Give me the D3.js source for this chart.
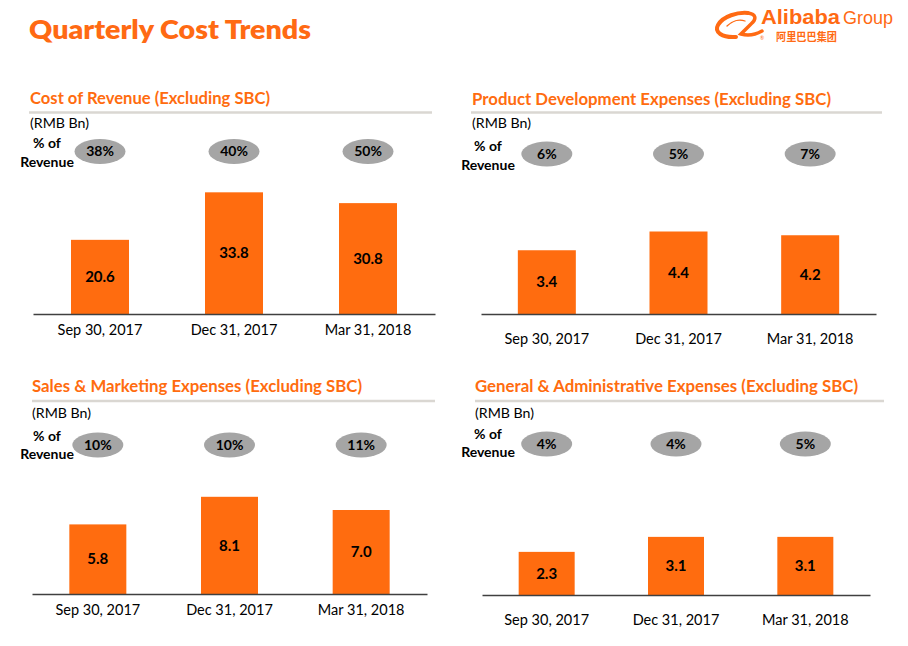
<!DOCTYPE html>
<html><head><meta charset="utf-8">
<script src="https://cdn.jsdelivr.net/npm/d3@7"></script>
<style>
html,body{margin:0;padding:0;background:#fff;}
svg{display:block;font-family:Lato,"Open Sans",sans-serif;}
</style></head>
<body>
<svg id="chart" width="908" height="646"></svg>
<script>
// ---- data ----
const categories = ["Sep 30, 2017", "Dec 31, 2017", "Mar 31, 2018"];
const costOfRevenue = [20.6, 33.8, 30.8];
const productDevelopment = [3.4, 4.4, 4.2];
const salesMarketing = [5.8, 8.1, 7.0];
const generalAdmin = [2.3, 3.1, 3.1];
const costOfRevenuePct = ["38%", "40%", "50%"];
const productDevelopmentPct = ["6%", "5%", "7%"];
const salesMarketingPct = ["10%", "10%", "11%"];
const generalAdminPct = ["4%", "4%", "5%"];
const panelTitles = [
  "Cost of Revenue (Excluding SBC)",
  "Product Development Expenses (Excluding SBC)",
  "Sales & Marketing Expenses (Excluding SBC)",
  "General & Administrative Expenses (Excluding SBC)"
];
const unitLabel = "(RMB Bn)";
const mainTitle = "Quarterly Cost Trends";

// ---- layout ----
const ORANGE = "#FF6C0F";
const svg = d3.select("#chart");

svg.append("text").attr("x", 29).attr("y", 39)
  .attr("fill", "#FF6A13").attr("font-weight", 800).attr("font-size", 27)
  .attr("textLength", 282).attr("lengthAdjust", "spacingAndGlyphs")
  .text(mainTitle);

// logo
const logo = svg.append("g").attr("fill", "none").attr("stroke", "#FF6A13").attr("stroke-linecap", "round");
logo.append("path")
  .attr("d", "M736,37 C722,38 714,32 718,25 C723,16 738,12 748,13")
  .attr("stroke-width", 4);
logo.append("path")
  .attr("d", "M748,13 C756,14 757,19 751,24 L741,34 C748,36 755,35 762,31")
  .attr("stroke-width", 3.5);
logo.append("path")
  .attr("d", "M727,26 C732,21 739,19 745,21")
  .attr("stroke-width", 1.3);
const logoT = svg.append("g").attr("fill", "#FF6A13");
logoT.append("text").attr("x", 761).attr("y", 24)
  .attr("font-weight", 900).attr("font-size", 20)
  .attr("font-family", "'Liberation Sans',Arial,sans-serif")
  .attr("textLength", 79).attr("lengthAdjust", "spacingAndGlyphs").text("Alibaba");
logoT.append("text").attr("x", 843).attr("y", 24)
  .attr("font-size", 19)
  .attr("font-family", "'Liberation Sans',Arial,sans-serif")
  .attr("textLength", 50).attr("lengthAdjust", "spacingAndGlyphs").text("Group");
logoT.append("text").attr("x", 776).attr("y", 41)
  .attr("font-size", 11).attr("font-weight", 700)
  .attr("font-family", "'Noto Sans CJK SC',sans-serif")
  .attr("textLength", 61).attr("lengthAdjust", "spacingAndGlyphs").text("阿里巴巴集团");
logoT.append("text").attr("x", 760).attr("y", 40)
  .attr("font-size", 5).text("®");

const panels = [
  {title: panelTitles[0], titleW: 240, values: costOfRevenue, pct: costOfRevenuePct,
   tx: 30, ty: 104, rule: [29, 432, 112.5], unitY: 128, pctX: 47, pctY: 148, revY: 167,
   ellY: 151.5, x0: 33, x1: 435, base: 314, dom: 40, h: 144, bw: 58, catY: 335},
  {title: panelTitles[1], titleW: 359, values: productDevelopment, pct: productDevelopmentPct,
   tx: 472, ty: 105, rule: [471, 882, 112.5], unitY: 128, pctX: 488, pctY: 151, revY: 170,
   ellY: 154, x0: 481, x1: 876, base: 314, dom: 8, h: 150, bw: 58, catY: 344},
  {title: panelTitles[2], titleW: 330, values: salesMarketing, pct: salesMarketingPct,
   tx: 32, ty: 392, rule: [32, 435, 401], unitY: 418, pctX: 47, pctY: 441, revY: 459,
   ellY: 445, x0: 32, x1: 427, base: 594, dom: 12, h: 144, bw: 57, catY: 615},
  {title: panelTitles[3], titleW: 383, values: generalAdmin, pct: generalAdminPct,
   tx: 475, ty: 392, rule: [475, 884, 401], unitY: 418, pctX: 488, pctY: 439, revY: 457,
   ellY: 444, x0: 482, x1: 870, base: 595, dom: 8, h: 150, bw: 56, catY: 625}
];

panels.forEach(p => {
  const g = svg.append("g");
  g.append("text").attr("x", p.tx).attr("y", p.ty)
    .attr("fill", ORANGE).attr("font-weight", 700).attr("font-size", 17.5)
    .attr("textLength", p.titleW).attr("lengthAdjust", "spacingAndGlyphs")
    .text(p.title);
  g.append("line").attr("x1", p.rule[0]).attr("x2", p.rule[1])
    .attr("y1", p.rule[2]).attr("y2", p.rule[2])
    .attr("stroke", "#DAD7D2").attr("stroke-width", 2.5);
  g.append("text").attr("x", p.tx).attr("y", p.unitY)
    .attr("font-size", 13.5).attr("fill", "#000")
    .attr("textLength", 59).attr("lengthAdjust", "spacingAndGlyphs").text(unitLabel);
  g.append("text").attr("x", p.pctX).attr("y", p.pctY).attr("text-anchor", "middle")
    .attr("font-size", 14).attr("font-weight", 700).text("% of");
  g.append("text").attr("x", p.pctX).attr("y", p.revY).attr("text-anchor", "middle")
    .attr("font-size", 14).attr("font-weight", 700).text("Revenue");

  const x = d3.scaleBand().domain(categories).range([p.x0, p.x1]);
  const y = d3.scaleLinear().domain([0, p.dom]).range([p.base, p.base - p.h]);
  const step = x.step();

  // pct ellipses
  const eg = g.selectAll(".pct").data(categories).join("g")
    .attr("transform", d => `translate(${x(d) + step / 2},${p.ellY})`);
  eg.append("ellipse").attr("rx", 25.5).attr("ry", 12.5).attr("fill", "#A5A5A5");
  eg.append("text").attr("text-anchor", "middle").attr("dy", "0.35em")
    .attr("font-size", 14).attr("font-weight", 700).attr("fill", "#000")
    .text((d, i) => p.pct[i]);

  // bars
  g.selectAll(".bar").data(categories).join("rect")
    .attr("x", d => x(d) + step / 2 - p.bw / 2)
    .attr("width", p.bw)
    .attr("y", (d, i) => y(p.values[i]))
    .attr("height", (d, i) => p.base - y(p.values[i]))
    .attr("fill", ORANGE);

  g.selectAll(".val").data(categories).join("text")
    .attr("x", d => x(d) + step / 2)
    .attr("y", (d, i) => (y(p.values[i]) + p.base) / 2)
    .attr("dy", "0.35em").attr("text-anchor", "middle")
    .attr("font-size", 15).attr("font-weight", 700).attr("fill", "#000")
    .text((d, i) => p.values[i].toFixed(1));

  // axis
  const ax = g.append("g").attr("transform", `translate(0,${p.base})`)
    .call(d3.axisBottom(x).tickSize(0).tickPadding(0));
  ax.select(".domain").attr("stroke", "#404040").attr("stroke-width", 1.6);
  ax.selectAll(".tick text").attr("font-size", 14.5).attr("fill", "#000")
    .attr("font-family", "Lato,'Open Sans',sans-serif")
    .attr("dy", null).attr("y", p.catY - p.base);
});
</script>
</body></html>
